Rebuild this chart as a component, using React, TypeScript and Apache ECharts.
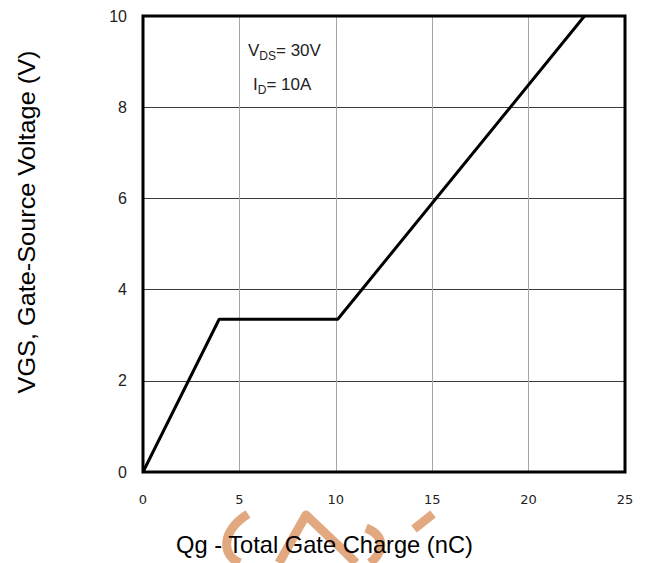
import React, { useEffect, useRef } from "react";
import * as echarts from "echarts";

const curveX = [0, 3.95, 10.1, 22.9];
const curveY = [0, 3.35, 3.35, 10];
const xTicks = [0, 5, 10, 15, 20, 25];
const yTicks = [0, 2, 4, 6, 8, 10];
const xTitle = "Qg - Total Gate Charge (nC)";
const yTitle = "VGS, Gate-Source Voltage (V)";
const condVds = "30V";
const condId = "10A";

export default function App() {
  const ref = useRef<HTMLDivElement>(null);
  useEffect(() => {
    const chart = echarts.init(ref.current!, null, { renderer: "svg" });
    const wm = "#E2A880";
    const condFont = "Liberation Sans Narrow, Liberation Sans, Arial";
    const rich = {
      a: { fontFamily: condFont, fontSize: 17, fill: "#222", lineHeight: 20, verticalAlign: "bottom" },
      s: { fontFamily: condFont, fontSize: 12, fill: "#222", lineHeight: 20, verticalAlign: "bottom", padding: [0, 0, -3, 0] },
    };
    chart.setOption({
      animation: false,
      backgroundColor: "#ffffff",
      grid: {
        left: 143,
        top: 16,
        right: 25,
        bottom: 91,
        show: true,
        borderColor: "#000",
        borderWidth: 3,
        z: 5,
      },
      xAxis: {
        type: "value",
        min: xTicks[0],
        max: xTicks[xTicks.length - 1],
        interval: 5,
        axisLine: { show: false },
        axisTick: { show: false },
        axisLabel: {
          margin: 21,
          fontFamily: "DejaVu Sans",
          fontSize: 13,
          color: "#222",
        },
        splitLine: { show: true, lineStyle: { color: "#a6a6a6", width: 1 } },
      },
      yAxis: {
        type: "value",
        min: yTicks[0],
        max: yTicks[yTicks.length - 1],
        interval: 2,
        axisLine: { show: false },
        axisTick: { show: false },
        axisLabel: {
          margin: 16,
          fontFamily: "Liberation Sans Narrow, Liberation Sans, Arial, sans-serif",
          fontSize: 16,
          color: "#222",
        },
        splitLine: { show: true, lineStyle: { color: "#3a3a3a", width: 1 } },
      },
      graphic: [
        {
          type: "group",
          z: -10,
          silent: true,
          children: [
            {
              type: "bezierCurve",
              shape: { x1: 248, y1: 514, cpx1: 220, cpy1: 532, cpx2: 222, cpy2: 556, x2: 240, y2: 563 },
              style: { stroke: wm, lineWidth: 9, fill: null },
            },
            {
              type: "polyline",
              shape: { points: [[279, 563], [306, 515], [345, 552], [356, 563]] },
              style: { stroke: wm, lineWidth: 9, fill: null, lineJoin: "round" },
            },
            {
              type: "bezierCurve",
              shape: { x1: 366, y1: 528, cpx1: 386, cpy1: 536, cpx2: 384, cpy2: 552, x2: 370, y2: 563 },
              style: { stroke: wm, lineWidth: 9, fill: null },
            },
            {
              type: "line",
              shape: { x1: 433, y1: 514, x2: 414, y2: 529 },
              style: { stroke: wm, lineWidth: 9 },
            },
          ],
        },
        {
          type: "text",
          x: 176,
          y: 545,
          scaleX: 1.03,
          z: 10,
          style: {
            text: xTitle,
            fontFamily: "Liberation Sans, Arial, sans-serif",
            fontSize: 23,
            fill: "#000",
            verticalAlign: "middle",
          },
        },
        {
          type: "text",
          x: 27,
          y: 222,
          rotation: Math.PI / 2,
          scaleX: 1.1,
          z: 10,
          style: {
            text: yTitle,
            fontFamily: "Liberation Sans, Arial, sans-serif",
            fontSize: 23,
            fill: "#000",
            align: "center",
            verticalAlign: "middle",
          },
        },
        {
          type: "text",
          x: 248,
          y: 39,
          z: 10,
          style: { text: "{a|V}{s|DS}{a|= " + condVds + "}", rich },
        },
        {
          type: "text",
          x: 253,
          y: 73,
          z: 10,
          style: { text: "{a|I}{s|D}{a|= " + condId + "}", rich },
        },
      ],
      series: [
        {
          type: "line",
          data: curveX.map((x, i) => [x, curveY[i]]),
          showSymbol: false,
          symbol: "none",
          lineStyle: { color: "#000", width: 3 },
          z: 3,
        },
      ],
    });
    return () => chart.dispose();
  }, []);
  return (
    <div
      ref={ref}
      style={{ position: "fixed", left: 0, top: 0, width: 650, height: 563 }}
    />
  );
}
